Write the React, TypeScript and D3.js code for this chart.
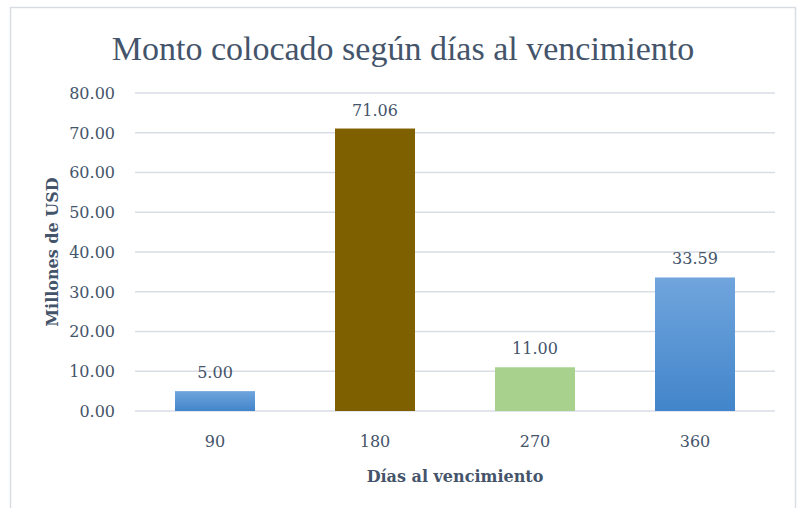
import { useMemo } from 'react';
import * as d3 from 'd3';

// Chart data
const categories = ['90', '180', '270', '360'];
const values = [5.0, 71.06, 11.0, 33.59];
const barColors = ['url(#blueGrad)', '#7f6000', '#a9d18e', 'url(#blueGrad)'];
const yTicks = [0, 10, 20, 30, 40, 50, 60, 70, 80];

const TEXT_COLOR = '#44546a';
const GRID_COLOR = '#d9dee6';
const FONT = '"DejaVu Serif", serif';
const TITLE_FONT = '"Liberation Serif", serif';

export default function App() {
  const width = 804;
  const height = 508;
  const margin = { top: 93, right: 29, bottom: 97, left: 135 };
  const innerWidth = width - margin.left - margin.right;
  const innerHeight = height - margin.top - margin.bottom;

  const x = useMemo(
    () => d3.scaleBand().domain(categories).range([0, innerWidth]).paddingInner(0.5).paddingOuter(0.25),
    [innerWidth]
  );
  const y = useMemo(() => d3.scaleLinear().domain([0, 80]).range([innerHeight, 0]), [innerHeight]);

  return (
    <svg
      width={width}
      height={height}
      style={{ position: 'absolute', left: 0, top: 0, background: '#fff', fontFamily: FONT }}
    >
      <defs>
        <linearGradient id="blueGrad" x1="0" y1="0" x2="0" y2="1">
          <stop offset="0%" stopColor="#70a5dd" />
          <stop offset="100%" stopColor="#4285ca" />
        </linearGradient>
      </defs>

      {/* chart frame */}
      <rect x={10.5} y={7.5} width={785} height={520} fill="#fff" stroke="#d9dde3" strokeWidth={1.5} />

      <text x={403} y={60} textAnchor="middle" fontSize={34} fill={TEXT_COLOR} fontFamily={TITLE_FONT}>
        Monto colocado según días al vencimiento
      </text>

      <g transform={`translate(${margin.left}, ${margin.top})`}>
        {/* gridlines + tick labels */}
        {yTicks.map((t) => (
          <g key={t}>
            <line x1={0} x2={innerWidth} y1={y(t)} y2={y(t)} stroke={GRID_COLOR} strokeWidth={1.5} />
            <text x={-20} y={y(t)} dy="0.36em" textAnchor="end" fontSize={16} fill={TEXT_COLOR}>
              {t.toFixed(2)}
            </text>
          </g>
        ))}

        {/* bars */}
        {categories.map((c, i) => (
          <g key={c}>
            <rect
              x={x(c)}
              y={y(values[i])}
              width={x.bandwidth()}
              height={y(0) - y(values[i])}
              fill={barColors[i]}
            />
            <text
              x={(x(c) ?? 0) + x.bandwidth() / 2}
              y={y(values[i]) - 13}
              textAnchor="middle"
              fontSize={16}
              fill={TEXT_COLOR}
            >
              {values[i].toFixed(2)}
            </text>
            <text
              x={(x(c) ?? 0) + x.bandwidth() / 2}
              y={innerHeight + 36}
              textAnchor="middle"
              fontSize={16}
              fill={TEXT_COLOR}
            >
              {c}
            </text>
          </g>
        ))}

        {/* axis titles */}
        <text
          x={innerWidth / 2}
          y={innerHeight + 71}
          textAnchor="middle"
          fontSize={16}
          fontWeight="bold"
          fill={TEXT_COLOR}
        >
          Días al vencimiento
        </text>
        <text
          transform={`translate(${-77}, ${innerHeight / 2}) rotate(-90)`}
          textAnchor="middle"
          fontSize={16}
          fontWeight="bold"
          fill={TEXT_COLOR}
        >
          Millones de USD
        </text>
      </g>
    </svg>
  );
}
